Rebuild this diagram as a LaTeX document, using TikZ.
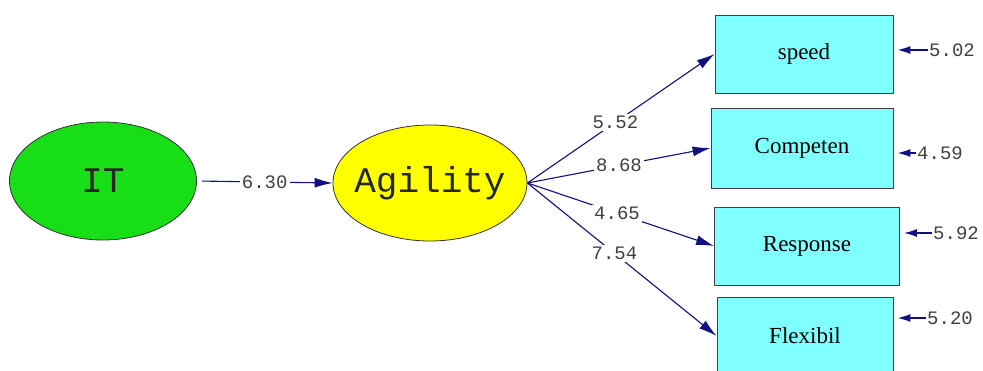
\documentclass[tikz,border=0pt]{standalone}
\usepackage{fontspec}
\setmainfont{Liberation Serif}
\newfontfamily\monofont{Liberation Mono}
\usetikzlibrary{arrows.meta,shapes.geometric}
\definecolor{itgreen}{RGB}{24,222,24}
\definecolor{agyellow}{RGB}{255,255,0}
\definecolor{obscyan}{RGB}{128,255,255}
\definecolor{pathblue}{RGB}{16,16,128}
\begin{document}
\begin{tikzpicture}[x=1pt,y=-1pt,
    latent/.style={ellipse,draw=black!80,line width=0.8pt,inner sep=0pt,
      font=\monofont\fontsize{36}{40}\selectfont,text=black!85},
    observed/.style={rectangle,draw=black!75,line width=0.8pt,fill=obscyan,
      minimum height=78pt,font=\fontsize{23}{27}\selectfont},
    loading/.style={draw=pathblue,line width=1.1pt,
      -{Latex[length=18pt,width=10pt]}},
    errpath/.style={draw=pathblue,line width=1.5pt,
      -{Latex[length=13pt,width=8pt]},shorten >=4pt},
    coef/.style={fill=white,inner sep=2pt,
      font=\monofont\fontsize{19}{22}\selectfont,text=black!75}]
  \useasboundingbox[fill=white] (0,0) rectangle (983,370);
  % latent variables
  \node[latent,fill=itgreen,minimum width=187pt,minimum height=118pt] (it) at (103,181) {IT};
  \node[latent,fill=agyellow,minimum width=194pt,minimum height=116pt,inner xsep=-8pt] (ag) at (430,183) {Agility};
  % indicators
  \node[observed,minimum width=178pt] (speed) at (804,54) {speed};
  \node[observed,minimum width=182pt,minimum height=80pt] (comp) at (802,148) {Competen};
  \node[observed,minimum width=185pt] (resp) at (807,246) {Response};
  \node[observed,minimum width=176pt] (flex) at (805,336) {Flexibil};
  % error terms
  \node[coef,inner sep=1pt] (e1) at (952,50) {5.02};
  \node[coef,inner sep=1pt] (e2) at (940,153) {4.59};
  \node[coef,inner sep=1pt] (e3) at (956,233) {5.92};
  \node[coef,inner sep=1pt] (e4) at (950,318) {5.20};
  \coordinate (fan) at (ag.east);
  % paths
  \draw[loading,shorten <=5pt] (it.east) -- node[coef]{6.30} (ag.west);
  \draw[loading] (fan) -- node[coef,pos=0.47]{5.52} (speed.west);
  \draw[loading] (fan) -- node[coef,pos=0.5]{8.68} (comp.west);
  \draw[loading] (fan) -- node[coef,pos=0.48]{4.65} (resp.west);
  \draw[loading] (fan) -- node[coef,pos=0.46]{7.54} (flex.west);
  \draw[errpath] (e1.west) -- (e1.west -| speed.east);
  \draw[errpath] (e2.west) -- (e2.west -| comp.east);
  \draw[errpath] (e3.west) -- (e3.west -| resp.east);
  \draw[errpath] (e4.west) -- (e4.west -| flex.east);
\end{tikzpicture}
\end{document}
